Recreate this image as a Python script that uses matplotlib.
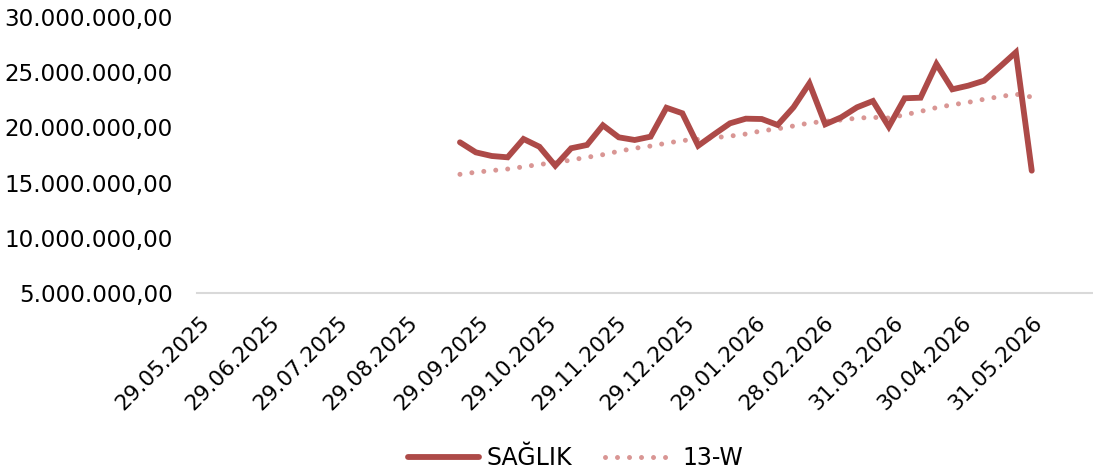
import matplotlib
matplotlib.use("Agg")
import matplotlib.pyplot as plt
import matplotlib.dates as mdates
import matplotlib.ticker as mticker
import numpy as np
import datetime as dt

# ---- data ----
start_date = dt.date(2025, 9, 21)
n_weeks = 37
dates = [start_date + dt.timedelta(days=7 * i) for i in range(n_weeks)]

saglik = [18.65, 17.74, 17.41, 17.29, 18.95, 18.25, 16.53, 18.11, 18.41, 20.19,
          19.10, 18.86, 19.16, 21.78, 21.28, 18.34, 19.37, 20.37, 20.79, 20.76,
          20.22, 21.82, 23.99, 20.28, 20.91, 21.82, 22.39, 20.06, 22.64, 22.69,
          25.74, 23.45, 23.78, 24.23, 25.50, 26.80, 16.08]
saglik = [v * 1e6 for v in saglik]

w13 = [15.75, 15.94, 16.09, 16.23, 16.43, 16.65, 16.79, 17.05, 17.29, 17.53,
       17.84, 18.11, 18.31, 18.57, 18.81, 18.92, 19.07, 19.21, 19.40, 19.69,
       19.87, 20.13, 20.40, 20.55, 20.67, 20.84, 20.91, 20.85, 21.14, 21.45,
       21.79, 22.05, 22.27, 22.55, 22.79, 23.01, 22.75]
w13 = [v * 1e6 for v in w13]

tick_dates = [dt.date(2025, 5, 29), dt.date(2025, 6, 29), dt.date(2025, 7, 29),
              dt.date(2025, 8, 29), dt.date(2025, 9, 29), dt.date(2025, 10, 29),
              dt.date(2025, 11, 29), dt.date(2025, 12, 29), dt.date(2026, 1, 29),
              dt.date(2026, 2, 28), dt.date(2026, 3, 31), dt.date(2026, 4, 30),
              dt.date(2026, 5, 31)]
tick_labels = [d.strftime("%d.%m.%Y") for d in tick_dates]

y_ticks = [5e6, 10e6, 15e6, 20e6, 25e6, 30e6]

# ---- figure ----
plt.rcParams['font.family'] = ['DejaVu Sans']
W, H = 1093, 473
fig = plt.figure(figsize=(W / 100, H / 100), dpi=100)
ax = fig.add_axes([197 / W, 1 - 293 / H, (W - 197) / W, (293 - 17) / H])

red = '#AD4A48'
pink = '#D99694'

ax.plot(dates, w13, color=pink, lw=3.6, linestyle=(0, (0.001, 2.4)),
        dash_capstyle='round', label='13-W', zorder=2)
ax.plot(dates, saglik, color=red, lw=4.2, solid_capstyle='round',
        solid_joinstyle='miter', label='SAĞLIK', zorder=3)

x0 = mdates.date2num(dt.date(2025, 5, 29))
ax.set_xlim(x0 - 0.9, x0 + 394.0)
ax.set_ylim(5e6, 30e6)

ax.set_yticks(y_ticks)
ax.yaxis.set_major_formatter(mticker.FuncFormatter(
    lambda v, p: f"{v:,.2f}".replace(",", "X").replace(".", ",").replace("X", ".")))
ax.set_xticks([mdates.date2num(d) for d in tick_dates])
ax.set_xticklabels(tick_labels, rotation=45, ha='right', va='top',
                   rotation_mode='anchor')

ax.tick_params(axis='both', length=0, colors='black')
ax.tick_params(axis='y', pad=17.5, labelsize=16.6)
ax.tick_params(axis='x', pad=14, labelsize=15.5)

for s in ['top', 'right', 'left']:
    ax.spines[s].set_visible(False)
ax.spines['bottom'].set_color('#D9D9D9')
ax.spines['bottom'].set_linewidth(1.5)
ax.spines['bottom'].set_zorder(1)

handles, labels = ax.get_legend_handles_labels()
leg = fig.legend(handles[::-1], labels[::-1], loc='center', bbox_to_anchor=(0.527, 1 - 458 / H),
                 ncol=2, frameon=False, fontsize=17, handlelength=3.0,
                 columnspacing=1.4, handletextpad=0.3)

fig.savefig('out.png', dpi=100)
